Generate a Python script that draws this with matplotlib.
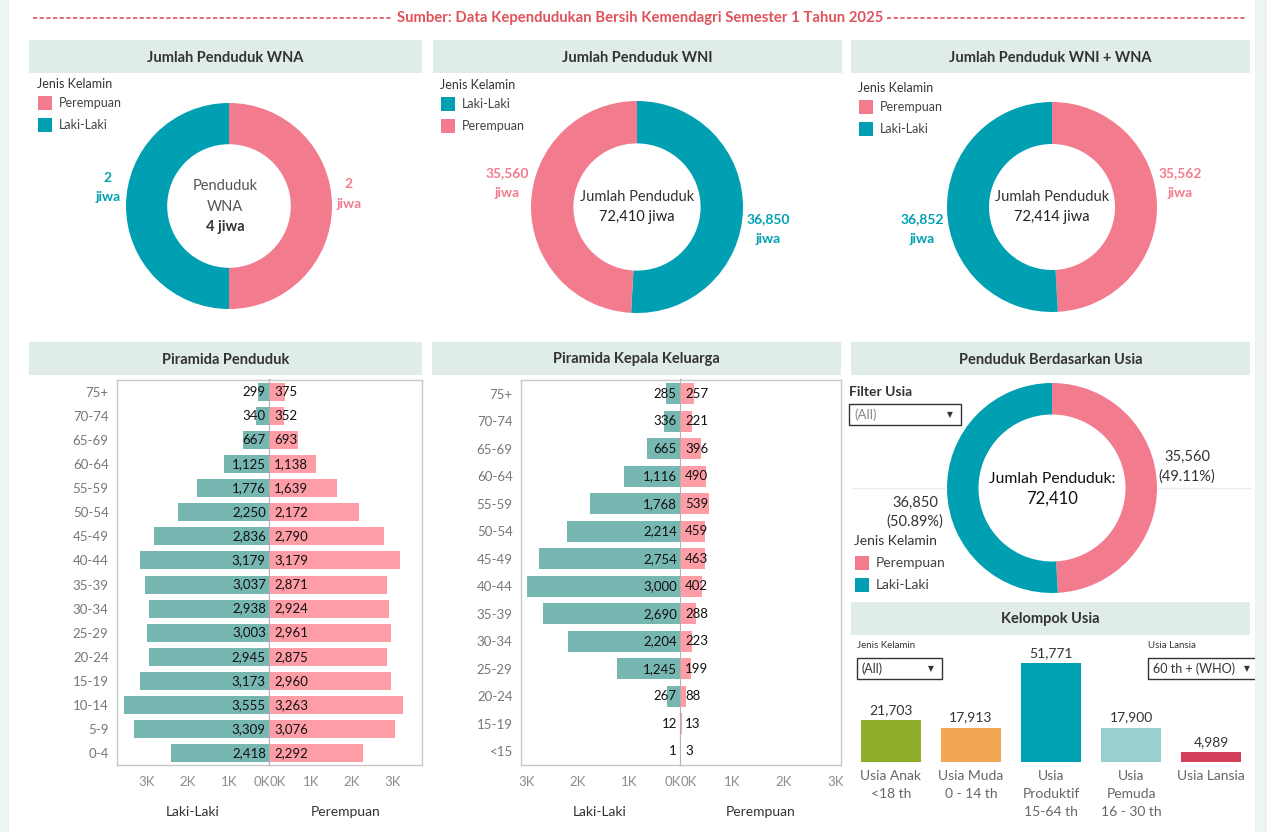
import numpy as np
import matplotlib
matplotlib.use("Agg")
import matplotlib.pyplot as plt
from matplotlib.patches import Rectangle

plt.rcParams['font.family'] = ['Lato', 'DejaVu Sans']

# ---------------- data ----------------
source_title = "Sumber: Data Kependudukan Bersih Kemendagri Semester 1 Tahun 2025"

wna_labels = ["Perempuan", "Laki-Laki"]
wna_values = [2, 2]
wni_labels = ["Laki-Laki", "Perempuan"]
wni_values = [36850, 35560]
tot_labels = ["Perempuan", "Laki-Laki"]
tot_values = [35562, 36852]
usia_labels = ["Perempuan", "Laki-Laki"]
usia_values = [35560, 36850]

pyr_groups = ["75+", "70-74", "65-69", "60-64", "55-59", "50-54", "45-49", "40-44",
              "35-39", "30-34", "25-29", "20-24", "15-19", "10-14", "5-9", "0-4"]
pyr_male = [299, 340, 667, 1125, 1776, 2250, 2836, 3179, 3037, 2938, 3003, 2945, 3173, 3555, 3309, 2418]
pyr_female = [375, 352, 693, 1138, 1639, 2172, 2790, 3179, 2871, 2924, 2961, 2875, 2960, 3263, 3076, 2292]

kk_groups = ["75+", "70-74", "65-69", "60-64", "55-59", "50-54", "45-49", "40-44",
             "35-39", "30-34", "25-29", "20-24", "15-19", "<15"]
kk_male = [285, 336, 665, 1116, 1768, 2214, 2754, 3000, 2690, 2204, 1245, 267, 12, 1]
kk_female = [257, 221, 396, 490, 539, 459, 463, 402, 288, 223, 199, 88, 13, 3]

kel_labels = ["Usia Anak\n<18 th", "Usia Muda\n0 - 14 th", "Usia\nProduktif\n15-64 th",
              "Usia\nPemuda\n16 - 30 th", "Usia Lansia"]
kel_values = [21703, 17913, 51771, 17900, 4989]

# ---------------- style ----------------
TEAL = '#00a0b2'
PINK = '#f27b8e'
MALE = '#76b7b2'
FEMALE = '#ff9da7'
HEAD = '#e0ece9'
RED = '#e0525a'
kel_colors = ['#8fae2a', '#f3a654', '#00a2b1', '#9bcfcf', '#d4405a']
sex_color = {"Perempuan": PINK, "Laki-Laki": TEAL}

W, H = 1267, 832
fig = plt.figure(figsize=(W / 100, H / 100), dpi=100)
fig.patch.set_facecolor('white')


def px_axes(x0, y0, x1, y1, **kw):
    return fig.add_axes([x0 / W, 1 - y1 / H, (x1 - x0) / W, (y1 - y0) / H], **kw)


# overlay layer (above charts)
ov = px_axes(0, 0, W, H)
ov.set_xlim(0, W)
ov.set_ylim(H, 0)
ov.axis('off')
ov.set_zorder(10)
ov.patch.set_alpha(0)

# side strips
ov.add_patch(Rectangle((0, 0), 9, H, color='#eef4f2', lw=0, zorder=20))
ov.add_patch(Rectangle((1255, 0), 12, H, color='#eef4f2', lw=0, zorder=20))

# source title
ov.text(640, 18, source_title, ha='center', va='center', color=RED, fontsize=10.7, fontweight='bold')
ov.plot([33, 393], [18, 18], color=RED, lw=1.2, ls=(0, (2.5, 1.5)))
ov.plot([887, 1247], [18, 18], color=RED, lw=1.2, ls=(0, (2.5, 1.5)))


def header(x0, x1, y0, y1, title):
    ov.add_patch(Rectangle((x0, y0), x1 - x0, y1 - y0, color=HEAD, lw=0))
    ov.text((x0 + x1) / 2, (y0 + y1) / 2 + 1, title, ha='center', va='center',
            fontsize=10.5, fontweight='bold', color='#333333')


header(29, 422, 40, 73, "Jumlah Penduduk WNA")
header(433, 842, 40, 73, "Jumlah Penduduk WNI")
header(851, 1250, 40, 73, "Jumlah Penduduk WNI + WNA")
header(29, 422, 342, 375, "Piramida Penduduk")
header(432, 841, 342, 375, "Piramida Kepala Keluarga")
header(851, 1250, 342, 375, "Penduduk Berdasarkan Usia")
header(851, 1250, 602, 635, "Kelompok Usia")


def legend(x, ytitle, ys, labels, tsize=9):
    ov.text(x, ytitle, "Jenis Kelamin", ha='left', va='center', fontsize=tsize, color='#333333')
    for yy, lab in zip(ys, labels):
        ov.add_patch(Rectangle((x + 1, yy - 7), 14, 14, color=sex_color[lab], lw=0))
        ov.text(x + 22, yy, lab, ha='left', va='center', fontsize=tsize, color='#444444')


def donut(cx, cy, r, values, labels, width):
    ax = px_axes(cx - r, cy - r, cx + r, cy + r)
    ax.pie(values, colors=[sex_color[l] for l in labels], startangle=90, counterclock=False,
           radius=1, wedgeprops=dict(width=width, linewidth=0))
    ax.set_xlim(-1, 1)
    ax.set_ylim(-1, 1)
    ax.set_aspect('equal')
    ax.axis('off')
    return ax


LBL = 10

# donut WNA
donut(229, 206, 103, wna_values, wna_labels, 0.4)
legend(37, 84, [103, 125], wna_labels)
vals = dict(zip(wna_labels, wna_values))
ov.text(108, 178, f"{vals['Laki-Laki']:,}", ha='center', va='center', color=TEAL, fontsize=LBL, fontweight='bold')
ov.text(108, 197, "jiwa", ha='center', va='center', color=TEAL, fontsize=LBL, fontweight='bold')
ov.text(349, 184, f"{vals['Perempuan']:,}", ha='center', va='center', color=PINK, fontsize=LBL, fontweight='bold')
ov.text(349, 204, "jiwa", ha='center', va='center', color=PINK, fontsize=LBL, fontweight='bold')
ov.text(225, 186, "Penduduk", ha='center', va='center', color='#555555', fontsize=10.5)
ov.text(225, 207, "WNA", ha='center', va='center', color='#555555', fontsize=10.5)
ov.text(225, 227, f"{sum(wna_values):,} jiwa", ha='center', va='center', color='#333333', fontsize=10.5, fontweight='bold')

# donut WNI
donut(637, 207, 106, wni_values, wni_labels, 0.4)
legend(440, 85, [104, 126], wni_labels)
vals = dict(zip(wni_labels, wni_values))
ov.text(507, 173, f"{vals['Perempuan']:,}", ha='center', va='center', color=PINK, fontsize=LBL, fontweight='bold')
ov.text(507, 193, "jiwa", ha='center', va='center', color=PINK, fontsize=LBL, fontweight='bold')
ov.text(768, 219, f"{vals['Laki-Laki']:,}", ha='center', va='center', color=TEAL, fontsize=LBL, fontweight='bold')
ov.text(768, 239, "jiwa", ha='center', va='center', color=TEAL, fontsize=LBL, fontweight='bold')
ov.text(637, 197, "Jumlah Penduduk", ha='center', va='center', color='#333333', fontsize=10.5)
ov.text(637, 217, f"{sum(wni_values):,} jiwa", ha='center', va='center', color='#222222', fontsize=10.5)

# donut total
donut(1052, 207, 105, tot_values, tot_labels, 0.4)
legend(858, 88, [107, 129], tot_labels)
vals = dict(zip(tot_labels, tot_values))
ov.text(1180, 173, f"{vals['Perempuan']:,}", ha='center', va='center', color=PINK, fontsize=LBL, fontweight='bold')
ov.text(1180, 193, "jiwa", ha='center', va='center', color=PINK, fontsize=LBL, fontweight='bold')
ov.text(922, 219, f"{vals['Laki-Laki']:,}", ha='center', va='center', color=TEAL, fontsize=LBL, fontweight='bold')
ov.text(922, 239, "jiwa", ha='center', va='center', color=TEAL, fontsize=LBL, fontweight='bold')
ov.text(1052, 197, "Jumlah Penduduk", ha='center', va='center', color='#333333', fontsize=10.5)
ov.text(1052, 217, f"{sum(tot_values):,} jiwa", ha='center', va='center', color='#222222', fontsize=10.5)

# donut usia
ov.plot([852, 946], [488, 488], color='#ececec', lw=1)
ov.plot([1158, 1250], [488, 488], color='#ececec', lw=1)
donut(1052, 488, 105, usia_values, usia_labels, 0.30)
legend(854, 541, [563, 585], usia_labels, tsize=10)
vals = dict(zip(usia_labels, usia_values))
tot_u = sum(usia_values)
ov.text(1187, 457, f"{vals['Perempuan']:,}", ha='center', va='center', color='#333333', fontsize=10.5)
ov.text(1187, 477, f"({vals['Perempuan'] / tot_u * 100:.2f}%)", ha='center', va='center', color='#333333', fontsize=10.5)
ov.text(915, 503, f"{vals['Laki-Laki']:,}", ha='center', va='center', color='#333333', fontsize=10.5)
ov.text(915, 522, f"({vals['Laki-Laki'] / tot_u * 100:.2f}%)", ha='center', va='center', color='#333333', fontsize=10.5)
ov.text(1052, 479, "Jumlah Penduduk:", ha='center', va='center', color='#111111', fontsize=11.3)
ov.text(1052, 499, f"{tot_u:,}", ha='center', va='center', color='#111111', fontsize=12)


def dropdown(x0, y0, x1, y1, txt, tcolor, tsize):
    ov.add_patch(Rectangle((x0, y0), x1 - x0, y1 - y0, facecolor='white', edgecolor='#333333', lw=1))
    ov.text(x0 + 5, (y0 + y1) / 2, txt, ha='left', va='center', color=tcolor, fontsize=tsize)
    ov.text(x1 - 11, (y0 + y1) / 2, "▼", ha='center', va='center', color='#333333', fontsize=5.5,
            family=['DejaVu Sans'])


ov.text(849, 392, "Filter Usia", ha='left', va='center', color='#333333', fontsize=10, fontweight='bold')
dropdown(849, 404, 961, 425, "(All)", '#888888', 9.5)

ov.text(857, 646, "Jenis Kelamin", ha='left', va='center', color='#333333', fontsize=7)
dropdown(857, 658, 942, 679, "(All)", '#333333', 9)
ov.text(1148, 646, "Usia Lansia", ha='left', va='center', color='#333333', fontsize=7)
dropdown(1148, 658, 1258, 679, "60 th + (WHO)", '#333333', 9)


def kfmt(v):
    return f"{int(round(v / 1000))}K"


def pyramid(x0, xc, x1, y0, y1, groups, male, female, lim, ttl_l, ttl_r):
    n = len(groups)
    y = np.arange(n)
    axL = px_axes(x0, y0, xc, y1)
    axR = px_axes(xc, y0, x1, y1)
    axL.barh(y, male, height=0.75, color=MALE, lw=0)
    axR.barh(y, female, height=0.75, color=FEMALE, lw=0)
    axL.set_xlim(lim, 0)
    axR.set_xlim(0, lim)
    for ax in (axL, axR):
        ax.set_ylim(n - 0.5, -0.5)
        ax.tick_params(axis='both', length=0)
        for s in ax.spines.values():
            s.set_color('#c8c8c8')
            s.set_linewidth(1)
    axL.spines['right'].set_color('#b0b0b0')
    axL.spines['right'].set_linewidth(1.6)
    axR.spines['left'].set_visible(False)
    axL.set_yticks(y)
    axL.set_yticklabels(groups, color='#777777', fontsize=9.5)
    axL.tick_params(axis='y', pad=6)
    axR.set_yticks([])
    ticks = [0, 1000, 2000, 3000]
    for ax, side in ((axL, 'right'), (axR, 'left')):
        ax.set_xticks(ticks)
        lbls = ax.set_xticklabels([kfmt(t) for t in ticks], color='#8c8c8c', fontsize=9.5)
        lbls[0].set_ha(side)
        ax.tick_params(axis='x', pad=8)
    for i in range(n):
        axL.annotate(f"{male[i]:,}", xy=(0, i), xytext=(-3, 0), textcoords='offset points',
                     ha='right', va='center', fontsize=9.5, color='#111111')
        axR.annotate(f"{female[i]:,}", xy=(0, i), xytext=(3, 0), textcoords='offset points',
                     ha='left', va='center', fontsize=9.5, color='#111111')
    ov.text(ttl_l, 812, "Laki-Laki", ha='center', va='center', fontsize=10, color='#333333')
    ov.text(ttl_r, 812, "Perempuan", ha='center', va='center', fontsize=10, color='#333333')


pyramid(117, 270, 422, 380, 765, pyr_groups, pyr_male, pyr_female, 3730, 193, 346)
pyramid(521, 681, 841, 380, 765, kk_groups, kk_male, kk_female, 3110, 600, 761)

# kelompok usia bars
axK = px_axes(851, 640, 1251, 762)
xk = np.arange(len(kel_values))
axK.bar(xk, kel_values, width=0.75, color=kel_colors, lw=0)
axK.set_xlim(-0.5, len(kel_values) - 0.5)
axK.set_ylim(0, 63800)
for s in axK.spines.values():
    s.set_visible(False)
axK.set_yticks([])
axK.set_xticks(xk)
axK.set_xticklabels(kel_labels, color='#666666', fontsize=10, linespacing=1.6, va='top')
axK.tick_params(axis='x', length=0, pad=6)
axK.patch.set_alpha(0)
for i, v in enumerate(kel_values):
    axK.annotate(f"{v:,}", xy=(i, v), xytext=(0, 3), textcoords='offset points',
                 ha='center', va='bottom', fontsize=10, color='#333333')

fig.savefig('out.png', dpi=100, facecolor='white')
